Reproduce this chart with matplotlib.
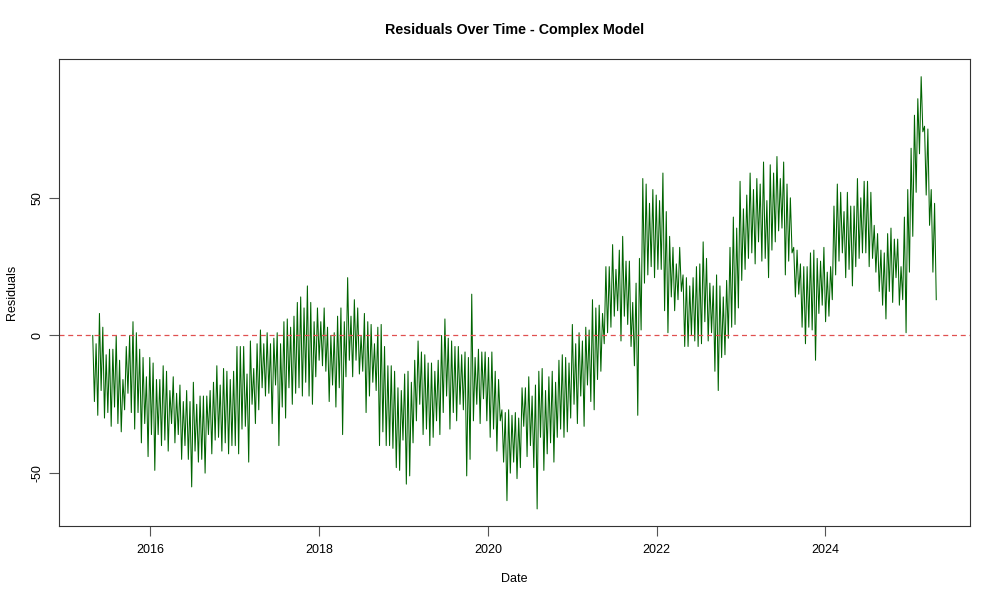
#!/usr/bin/env python3
# === Residuals over time (R base-graphics look) ===
import numpy as np
import pandas as pd
import matplotlib
matplotlib.use("Agg")
import matplotlib.pyplot as plt
import matplotlib.dates as mdates

# === Data: high / low of the residuals in each ~2-week slice ===
first_day = "2015-04-26"
last_day = "2025-04-25"

resid_high = [
    # 2015-04 .. 2016-12
    0, -3, 8, 3, -7, -5, -5, 0, -9, -16, -4, 0, 5, 1, -5, -8, -15, -8, -10, -16,
    -16, -11, -13, -20, -15, -21, -18, -24, -20, -24, -17, -25, -22, -22, -22,
    -20, -17, -11, -18, -12, -13, -16, -13,
    # 2017 .. 2018-09
    -4, -4, -4, -14, -2, -12, -3, 2, -3, 1, -3, -1, 1, -3, 5, 6, 3, 7, 12, 14,
    10, 18, 12, 5, 10, 5, 10, 3, 0, 1, 7, 10, 5, 21, 7, 13, 10, 0, 8, 5, 4, -3, 3,
    # 2018-09 .. 2020-06
    4, -4, -11, -11, -13, -19, -20, -14, -13, -17, -9, -2, -6, -7, -10, -10, -13,
    -9, 0, 6, -1, -2, -4, -4, -7, -6, -8, 15, -8, -5, -6, -6, -8, -6, -13, -16,
    -27, -28, -27, -29, -28, -30, -19,
    # 2020-06 .. 2022-02
    -19, -15, -22, -18, -13, -12, -20, -15, -13, -17, -9, -7, -8, -10, 4, -3, 1,
    -2, 3, 2, 13, 10, 11, 8, 25, 25, 33, 24, 31, 36, 27, 27, 12, 19, 28, 57, 55,
    48, 53, 51, 49, 59, 45,
    # 2022-02 .. 2023-10
    36, 32, 26, 32, 22, 21, 18, 21, 25, 26, 34, 28, 19, 18, 22, 18, 14, 20, 32,
    43, 39, 56, 46, 51, 59, 53, 57, 55, 63, 49, 62, 59, 65, 57, 63, 55, 50, 32,
    31, 26, 25, 25,
    # 2023-10 .. 2025-04
    30, 31, 28, 27, 32, 23, 25, 47, 55, 52, 45, 52, 47, 47, 57, 50, 56, 56, 52,
    40, 37, 31, 30, 37, 39, 35, 35, 25, 43, 53, 68, 80, 86, 94, 76, 75, 53, 48,
]
resid_low = [
    -24, -29, -20, -30, -28, -33, -26, -32, -35, -27, -21, -28, -34, -28, -39,
    -32, -44, -36, -49, -36, -40, -38, -42, -32, -39, -36, -45, -40, -45, -55,
    -42, -46, -45, -50, -36, -43, -38, -37, -42, -39, -43, -40, -40,
    -43, -34, -33, -46, -25, -32, -27, -19, -22, -21, -32, -18, -40, -26, -30,
    -19, -25, -21, -19, -22, -17, -22, -25, -15, -9, -11, -13, -24, -18, -26,
    -19, -36, -15, -9, -15, -9, -14, -13, -28, -22, -17, -20, -40,
    -35, -40, -40, -41, -48, -49, -38, -54, -51, -39, -31, -25, -36, -34, -40,
    -37, -31, -36, -28, -22, -34, -28, -31, -25, -27, -51, -45, -31, -25, -32,
    -23, -31, -37, -34, -42, -31, -46, -60, -50, -46, -52, -48, -33,
    -44, -40, -48, -63, -37, -49, -43, -39, -46, -37, -34, -37, -35, -30, -25,
    -32, -22, -33, -18, -24, -27, -16, -13, -3, 1, 3, 7, 9, -2, 7, 4, -4, -11,
    -29, 2, 19, 22, 25, 21, 24, 24, 9, 1,
    14, 9, 13, 16, -4, -4, 0, -2, -4, -3, 5, -2, 1, -13, -20, -8, -7, -1, 3, 4,
    10, 20, 24, 28, 30, 26, 34, 27, 28, 21, 31, 34, 38, 39, 22, 27, 30, 14, 15,
    3, -3, 3,
    2, -9, 8, 11, 5, 7, 13, 22, 27, 30, 21, 24, 18, 25, 28, 30, 30, 25, 28, 23,
    16, 11, 6, 16, 12, 21, 11, 13, 1, 23, 36, 52, 66, 74, 51, 40, 23, 13,
]

# === Build the series: high then low inside each slice ===
values = np.column_stack([resid_high, resid_low]).ravel().astype(float)
dates = pd.date_range(first_day, last_day, periods=len(values))

# === Style ===
plt.rcParams["font.family"] = ["Liberation Sans", "DejaVu Sans"]

fig = plt.figure(figsize=(10, 6), dpi=100)
ax = fig.add_axes([0.059, 0.123, 0.911, 0.778])

ax.plot(dates, values, color="#006400", linewidth=0.75)
ax.axhline(0, color="#e05050", linestyle=(0, (4, 3)), linewidth=0.9)

# R-style 4% padding on both axes
x0, x1 = mdates.date2num(dates[0]), mdates.date2num(dates[-1])
pad = (x1 - x0) * 0.04
ax.set_xlim(x0 - pad, x1 + pad)
ymin, ymax = values.min(), values.max()
ypad = (ymax - ymin) * 0.04
ax.set_ylim(ymin - ypad, ymax + ypad)

ax.xaxis.set_major_locator(mdates.YearLocator(2))
ax.xaxis.set_major_formatter(mdates.DateFormatter("%Y"))
ax.set_yticks([-50, 0, 50])
ax.set_yticklabels(["-50", "0", "50"], rotation=90, va="center")

ax.tick_params(direction="out", length=7, width=0.8, color="#555555",
               labelsize=9)
ax.tick_params(axis="x", pad=6)
ax.tick_params(axis="y", pad=4)
for s in ax.spines.values():
    s.set_linewidth(0.8)
    s.set_color("#333333")

ax.set_xlabel("Date", fontsize=9, labelpad=12)
ax.set_ylabel("Residuals", fontsize=9, labelpad=10)
fig.text(0.5145, 1 - 30 / 600, "Residuals Over Time - Complex Model",
         fontsize=10.3, fontweight="bold", ha="center", va="center")

fig.savefig("out.png", dpi=100)
